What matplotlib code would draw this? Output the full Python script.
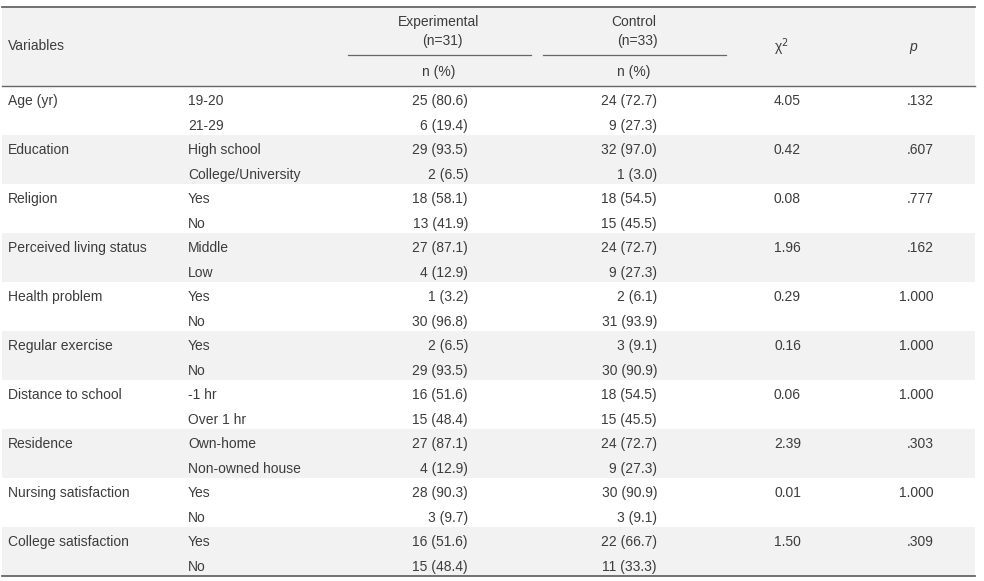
import matplotlib.pyplot as plt
from matplotlib.patches import Rectangle

plt.rcParams['font.family'] = ['Liberation Sans', 'DejaVu Sans']

# table data
variables = ["Age (yr)", "Education", "Religion", "Perceived living status",
             "Health problem", "Regular exercise", "Distance to school",
             "Residence", "Nursing satisfaction", "College satisfaction"]
categories = [["19-20", "21-29"], ["High school", "College/University"],
              ["Yes", "No"], ["Middle", "Low"], ["Yes", "No"], ["Yes", "No"],
              ["-1 hr", "Over 1 hr"], ["Own-home", "Non-owned house"],
              ["Yes", "No"], ["Yes", "No"]]
exp_n = [[25, 6], [29, 2], [18, 13], [27, 4], [1, 30], [2, 29], [16, 15],
         [27, 4], [28, 3], [16, 15]]
exp_pct = [[80.6, 19.4], [93.5, 6.5], [58.1, 41.9], [87.1, 12.9], [3.2, 96.8],
           [6.5, 93.5], [51.6, 48.4], [87.1, 12.9], [90.3, 9.7], [51.6, 48.4]]
ctrl_n = [[24, 9], [32, 1], [18, 15], [24, 9], [2, 31], [3, 30], [18, 15],
          [24, 9], [30, 3], [22, 11]]
ctrl_pct = [[72.7, 27.3], [97.0, 3.0], [54.5, 45.5], [72.7, 27.3], [6.1, 93.9],
            [9.1, 90.9], [54.5, 45.5], [72.7, 27.3], [90.9, 9.1], [66.7, 33.3]]
chi2 = ["4.05", "0.42", "0.08", "1.96", "0.29", "0.16", "0.06", "2.39", "0.01", "1.50"]
pvals = [".132", ".607", ".777", ".162", "1.000", "1.000", "1.000", ".303", "1.000", ".309"]

W, H = 984, 581
fig = plt.figure(figsize=(W / 100, H / 100), dpi=100)
ax = fig.add_axes([0, 0, 1, 1])
ax.set_xlim(0, W)
ax.set_ylim(H, 0)
ax.axis('off')

gray = '#f2f2f2'
txt = '#3c3c3c'
line = '#666666'
fs = 10
x_left, x_right = 2, 975
top, head_bot, bottom = 7, 86, 576

# header background
ax.add_patch(Rectangle((x_left, top), x_right - x_left, head_bot - top,
                       facecolor=gray, edgecolor='none'))
row_h = (bottom - head_bot) / (2 * len(variables))
for i in range(len(variables)):
    if i % 2 == 1:
        y0 = head_bot + i * 2 * row_h
        ax.add_patch(Rectangle((x_left, y0), x_right - x_left, 2 * row_h,
                               facecolor=gray, edgecolor='none'))

ax.plot([x_left, x_right], [top, top], color=line, lw=1.3)
ax.plot([x_left, x_right], [head_bot, head_bot], color=line, lw=1.0)
ax.plot([x_left, x_right], [bottom, bottom], color=line, lw=1.3)
ax.plot([348, 531], [55, 55], color=line, lw=0.9)
ax.plot([543, 726], [55, 55], color=line, lw=0.9)

# header text
ax.text(8, 46, "Variables", fontsize=fs, color=txt, va='center', ha='left')
ax.text(439, 22, "Experimental", fontsize=fs, color=txt, va='center', ha='center')
ax.text(442, 41, "(n=31)", fontsize=fs, color=txt, va='center', ha='center')
ax.text(634, 22, "Control", fontsize=fs, color=txt, va='center', ha='center')
ax.text(637, 41, "(n=33)", fontsize=fs, color=txt, va='center', ha='center')
ax.text(439, 72, "n (%)", fontsize=fs, color=txt, va='center', ha='center')
ax.text(634, 72, "n (%)", fontsize=fs, color=txt, va='center', ha='center')
ax.text(781, 47, "χ$^2$", fontsize=fs, color=txt, va='center', ha='center')
ax.text(913, 47, "p", fontsize=fs, color=txt, va='center', ha='center', style='italic')

# body
for i, var in enumerate(variables):
    for j in range(2):
        y = head_bot + (2 * i + j + 0.5) * row_h + 3
        if j == 0:
            ax.text(8, y, var, fontsize=fs, color=txt, va='center', ha='left')
            ax.text(801, y, chi2[i], fontsize=fs, color=txt, va='center', ha='right')
            ax.text(934, y, pvals[i], fontsize=fs, color=txt, va='center', ha='right')
        ax.text(188, y, categories[i][j], fontsize=fs, color=txt, va='center', ha='left')
        ax.text(468, y, f"{exp_n[i][j]} ({exp_pct[i][j]:.1f})", fontsize=fs,
                color=txt, va='center', ha='right')
        ax.text(657, y, f"{ctrl_n[i][j]} ({ctrl_pct[i][j]:.1f})", fontsize=fs,
                color=txt, va='center', ha='right')

fig.savefig("out.png", dpi=100)
